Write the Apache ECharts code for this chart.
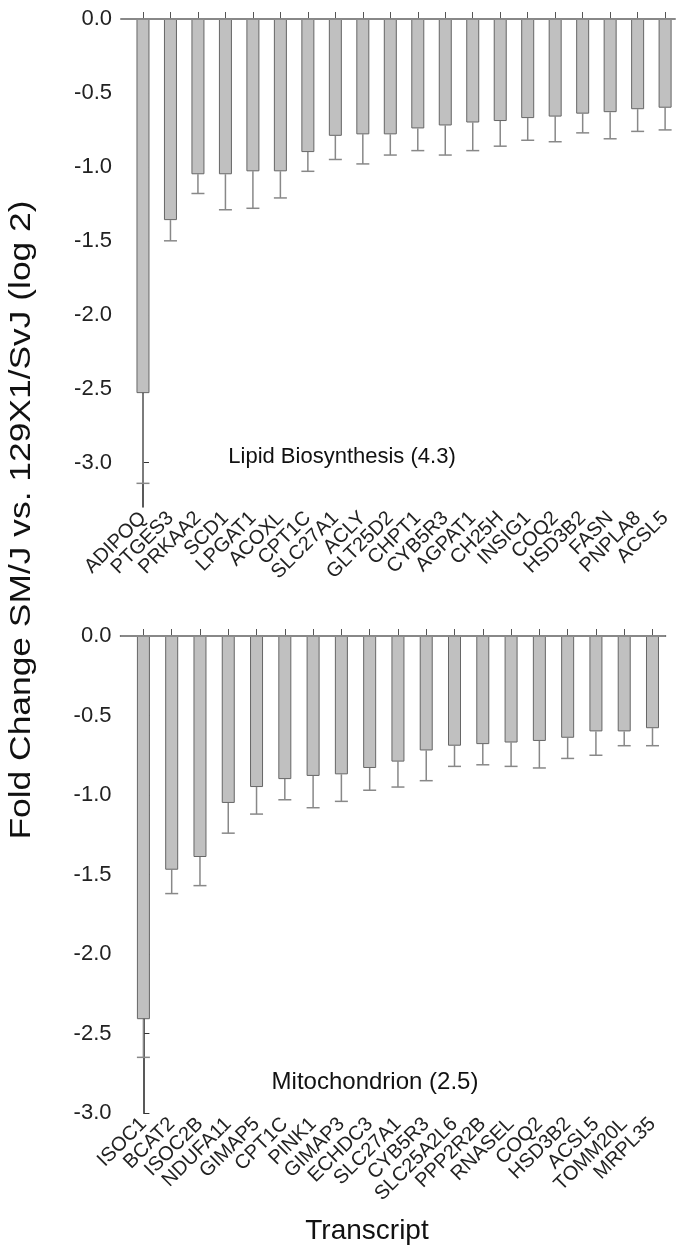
<!DOCTYPE html>
<html>
<head>
<meta charset="utf-8">
<script src="https://cdn.jsdelivr.net/npm/echarts@6/dist/echarts.min.js"></script>
<style>
  html, body { margin: 0; padding: 0; background: #fff; }
</style>
</head>
<body>
<div id="chart" style="width: 676px; height: 1254px;"></div>
<script>
// top panel: lipid biosynthesis
const lipidGenes = ["ADIPOQ", "PTGES3", "PRKAA2", "SCD1", "LPGAT1", "ACOXL", "CPT1C", "SLC27A1", "ACLY", "GLT25D2",
  "CHPT1", "CYB5R3", "AGPAT1", "CH25H", "INSIG1", "COQ2", "HSD3B2", "FASN", "PNPLA8", "ACSL5"];
const lipidFold = [-2.53, -1.36, -1.05, -1.05, -1.03, -1.03, -0.90, -0.79, -0.78, -0.78,
  -0.74, -0.72, -0.70, -0.69, -0.67, -0.66, -0.64, -0.63, -0.61, -0.60];
const lipidErr = [0.61, 0.14, 0.13, 0.24, 0.25, 0.18, 0.13, 0.16, 0.20, 0.14,
  0.15, 0.20, 0.19, 0.17, 0.15, 0.17, 0.13, 0.18, 0.15, 0.15];

// bottom panel: mitochondrion
const mitoGenes = ["ISOC1", "BCAT2", "ISOC2B", "NDUFA11", "GIMAP5", "CPT1C", "PINK1", "GIMAP3", "ECHDC3", "SLC27A1",
  "CYB5R3", "SLC25A2L6", "PPP2R2B", "RNASEL", "COQ2", "HSD3B2", "ACSL5", "TOMM20L", "MRPL35"];
const mitoFold = [-2.41, -1.47, -1.39, -1.05, -0.95, -0.90, -0.88, -0.87, -0.83, -0.79,
  -0.72, -0.69, -0.68, -0.67, -0.66, -0.64, -0.60, -0.60, -0.58];
const mitoErr = [0.24, 0.15, 0.18, 0.19, 0.17, 0.13, 0.20, 0.17, 0.14, 0.16,
  0.19, 0.13, 0.13, 0.15, 0.17, 0.13, 0.15, 0.09, 0.11];

const yTicks = [0, -0.5, -1.0, -1.5, -2.0, -2.5, -3.0];

const font = "'Liberation Sans', Arial, sans-serif";

function idx(arr) {
  return arr.map((_, i) => i);
}

function xAxisFor(gridIndex, names, min, max) {
  // blank end labels so echarts' min/max label check doesn't drop a gene name
  const labelAt = [min + 0.05].concat(idx(names), [max - 0.05]);
  return {
    type: "value",
    gridIndex: gridIndex,
    min: min,
    max: max,
    splitLine: { show: false },
    axisLine: { show: true, lineStyle: { color: "#222", width: 1.5 } },
    axisTick: {
      show: true,
      inside: true,
      length: 7,
      customValues: idx(names),
      lineStyle: { color: "#555", width: 1 }
    },
    axisLabel: {
      customValues: labelAt,
      hideOverlap: false,
      rotate: 45,
      margin: 8,
      color: "#222",
      fontSize: 20,
      fontFamily: font,
      formatter: v => (Number.isInteger(v) ? names[v] : "")
    }
  };
}

function yAxisFor(gridIndex, min) {
  return {
    type: "value",
    gridIndex: gridIndex,
    min: min,
    max: 0,
    splitLine: { show: false },
    axisLine: { show: true, lineStyle: { color: "#222", width: 1.5 } },
    axisTick: {
      show: true,
      inside: true,
      length: 6,
      customValues: yTicks,
      lineStyle: { color: "#333", width: 1 }
    },
    axisLabel: {
      customValues: yTicks,
      showMinLabel: true,
      showMaxLabel: true,
      margin: 9,
      color: "#222",
      fontSize: 22,
      fontFamily: font,
      formatter: v => v.toFixed(1)
    }
  };
}

function barSeries(axisIndex, fold) {
  return {
    type: "bar",
    xAxisIndex: axisIndex,
    yAxisIndex: axisIndex,
    barWidth: 13,
    data: fold.map((v, i) => [i, v]),
    itemStyle: { color: "#c0c0c0", borderColor: "#666", borderWidth: 1 },
    silent: true,
    markLine: {
      silent: true,
      symbol: "none",
      label: { show: false },
      lineStyle: { color: "#999", width: 1.5, type: "solid" },
      data: [{ yAxis: 0 }]
    }
  };
}

function errorSeries(axisIndex, fold, err) {
  return {
    type: "custom",
    xAxisIndex: axisIndex,
    yAxisIndex: axisIndex,
    silent: true,
    data: fold.map((v, i) => [i, v, v - err[i]]),
    renderItem: (params, api) => {
      const top = api.coord([api.value(0), api.value(1)]);
      const bot = api.coord([api.value(0), api.value(2)]);
      const half = 6.5;
      const style = { stroke: "#888", lineWidth: 1.5 };
      return {
        type: "group",
        children: [
          { type: "line", shape: { x1: top[0], y1: top[1], x2: bot[0], y2: bot[1] }, style: style },
          { type: "line", shape: { x1: bot[0] - half, y1: bot[1], x2: bot[0] + half, y2: bot[1] }, style: style }
        ]
      };
    }
  };
}

const option = {
  backgroundColor: "#fff",
  animation: false,
  title: [
    {
      text: "Lipid Biosynthesis (4.3)",
      left: 337, top: 452, textAlign: "center", textVerticalAlign: "middle",
      textStyle: { fontSize: 22, fontWeight: "normal", color: "#111", fontFamily: font }
    },
    {
      text: "Mitochondrion (2.5)",
      left: 370, top: 1077, textAlign: "center", textVerticalAlign: "middle",
      textStyle: { fontSize: 24, fontWeight: "normal", color: "#111", fontFamily: font }
    },
    {
      text: "Transcript",
      left: 362, top: 1226, textAlign: "center", textVerticalAlign: "middle",
      textStyle: { fontSize: 28, fontWeight: "normal", color: "#111", fontFamily: font }
    }
  ],
  graphic: [
    {
      type: "text",
      x: 22, y: 520,
      rotation: Math.PI / 2,
      scaleX: 1.22,
      style: {
        text: "Fold Change SM/J vs. 129X1/SvJ (log 2)",
        fontSize: 29,
        fontFamily: font,
        fill: "#111",
        align: "center",
        verticalAlign: "middle"
      }
    }
  ],
  grid: [
    { left: 121, top: 19, width: 554, height: 488, outerBoundsMode: "none" },
    { left: 120.5, top: 636, width: 545, height: 477, outerBoundsMode: "none" }
  ],
  xAxis: [
    xAxisFor(0, lipidGenes, -0.8, 19.36),
    xAxisFor(1, mitoGenes, -0.81, 18.46)
  ],
  yAxis: [
    yAxisFor(0, -3.3),
    yAxisFor(1, -3.0)
  ],
  series: [
    barSeries(0, lipidFold),
    errorSeries(0, lipidFold, lipidErr),
    barSeries(1, mitoFold),
    errorSeries(1, mitoFold, mitoErr)
  ]
};

const myChart = echarts.init(document.getElementById("chart"));
myChart.setOption(option);
</script>
</body>
</html>
